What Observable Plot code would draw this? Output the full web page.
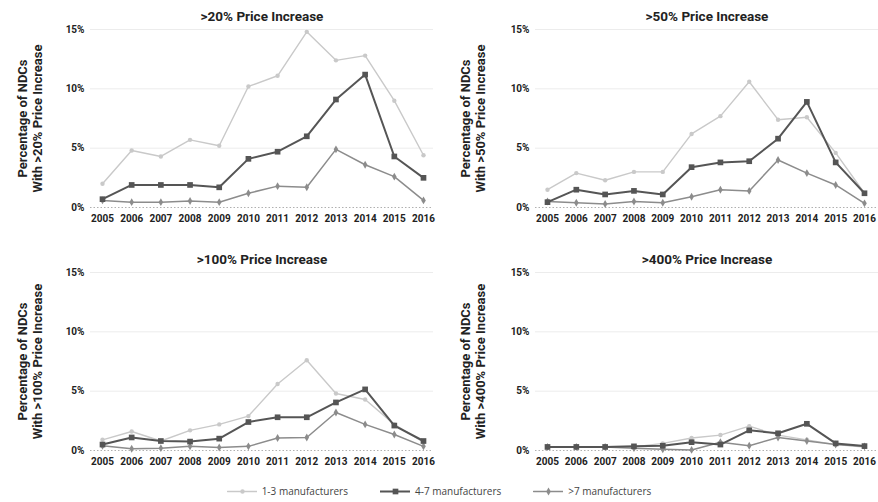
<!DOCTYPE html>
<html><head><meta charset="utf-8">
<script src="https://cdn.jsdelivr.net/npm/d3@7"></script>
<script src="https://cdn.jsdelivr.net/npm/@observablehq/plot@0.6"></script>
<style>
body{margin:0;background:#fff;width:878px;height:502px;overflow:hidden;position:relative;font-family:Roboto,sans-serif}
.panel{position:absolute}
#legend{position:absolute;left:0;top:481px;width:878px;height:20px;display:flex;justify-content:center;align-items:center;gap:32px;font:10px "Open Sans",sans-serif;color:#444}
#legend span{display:inline-flex;align-items:center;gap:5px}
</style></head><body>
<div id="p0" class="panel" style="left:0;top:0"></div>
<div id="p1" class="panel" style="left:439px;top:0"></div>
<div id="p2" class="panel" style="left:0;top:243px"></div>
<div id="p3" class="panel" style="left:439px;top:243px"></div>
<div id="legend"></div>
<script>
const years = [2005,2006,2007,2008,2009,2010,2011,2012,2013,2014,2015,2016];
const groups = ["1-3 manufacturers","4-7 manufacturers",">7 manufacturers"];
const panelTitles = [">20% Price Increase",">50% Price Increase",">100% Price Increase",">400% Price Increase"];
const axisTitles = ["Percentage of NDCs\nWith >20% Price Increase","Percentage of NDCs\nWith >50% Price Increase","Percentage of NDCs\nWith >100% Price Increase","Percentage of NDCs\nWith >400% Price Increase"];
const yTicks = [0,5,10,15];

const p20_1to3 = [2.0,4.8,4.3,5.7,5.2,10.2,11.1,14.8,12.4,12.8,9.0,4.4];
const p20_4to7 = [0.7,1.9,1.9,1.9,1.7,4.1,4.7,6.0,9.1,11.2,4.3,2.5];
const p20_over7 = [0.6,0.45,0.45,0.55,0.45,1.2,1.8,1.7,4.9,3.6,2.6,0.6];

const p50_1to3 = [1.5,2.9,2.3,3.0,3.0,6.2,7.7,10.6,7.4,7.6,4.6,1.2];
const p50_4to7 = [0.45,1.5,1.1,1.4,1.1,3.4,3.8,3.9,5.8,8.9,3.8,1.2];
const p50_over7 = [0.5,0.4,0.3,0.5,0.4,0.9,1.5,1.4,4.0,2.9,1.9,0.35];

const p100_1to3 = [0.9,1.6,0.8,1.7,2.2,2.9,5.6,7.6,4.8,4.3,2.2,0.7];
const p100_4to7 = [0.5,1.1,0.8,0.75,1.0,2.4,2.8,2.8,4.05,5.15,2.1,0.8];
const p100_over7 = [0.4,0.15,0.2,0.35,0.25,0.35,1.05,1.1,3.2,2.2,1.35,0.35];

const p400_1to3 = [0.3,0.3,0.3,0.3,0.6,1.05,1.3,2.05,1.3,0.9,0.5,0.3];
const p400_4to7 = [0.3,0.3,0.3,0.35,0.4,0.7,0.5,1.7,1.45,2.25,0.6,0.37];
const p400_over7 = [0.3,0.3,0.3,0.2,0.1,0.05,0.7,0.4,1.1,0.8,0.5,0.35];

const panels = [
  [p20_1to3,p20_4to7,p20_over7],
  [p50_1to3,p50_4to7,p50_over7],
  [p100_1to3,p100_4to7,p100_over7],
  [p400_1to3,p400_4to7,p400_over7]
];

const styles = [
  {stroke:"#c9c9c9", strokeWidth:1.4, r:2.2, symbol:"circle"},
  {stroke:"#555555", strokeWidth:2, r:3.2, symbol:"square"},
  {stroke:"#8c8c8c", strokeWidth:1.5, r:2.4, symbol:"diamond"}
];

function makePanel(i){
  const right = i % 2 === 1;
  const series = panels[i];
  const rowsOf = (vals) => years.map((y,k)=>({year:y, value:vals[k]}));
  const order = [0,2,1];
  const marks = [
    Plot.ruleY([5,10,15],{stroke:"#ececec"}),
    Plot.ruleY([0],{stroke:"#b0b0b0", strokeDasharray:"1.5,2"})
  ];
  for (const g of order){
    const s = styles[g];
    const d = rowsOf(series[g]);
    marks.push(Plot.lineY(d,{x:"year",y:"value",stroke:s.stroke,strokeWidth:s.strokeWidth}));
    marks.push(Plot.dot(d,{x:"year",y:"value",fill:s.stroke,r:s.r,symbol:s.symbol}));
  }
  marks.push(Plot.text([panelTitles[i]],{text:d=>d,frameAnchor:"top",dy:-13,lineAnchor:"middle",fontSize:13.5,fontWeight:700,fill:"#222"}));
  marks.push(Plot.text([axisTitles[i]],{text:d=>d,frameAnchor:"left",rotate:-90,dx:right?-63:-61,lineAnchor:"middle",textAnchor:"middle",fontSize:13,fontWeight:700,lineHeight:1.15,fill:"#222"}));
  return Plot.plot({
    width:439, height:236,
    marginLeft: right?96:90, marginRight: right?0:6, marginTop:29, marginBottom:29,
    insetLeft: right?12:12, insetRight: right?14:10,
    x:{type:"linear", domain:[2005,2016], ticks:years, tickFormat:d=>String(d), tickSize:0, tickPadding:7, label:null},
    y:{domain:[0,15], ticks:yTicks, tickFormat:d=>d+"%", tickSize:0, tickPadding:6, label:null},
    style:{fontFamily:"Roboto", fontSize:"10px", fontWeight:700, color:"#222", background:"white", overflow:"visible"},
    marks
  });
}

for (let i=0;i<4;i++) document.getElementById("p"+i).appendChild(makePanel(i));

const legend = document.getElementById("legend");
groups.forEach((g,k)=>{
  const s = styles[k];
  const span = document.createElement("span");
  const sw = Plot.plot({
    width:30, height:10, margin:0, axis:null,
    x:{domain:[0,1]}, y:{domain:[0,1]},
    marks:[
      Plot.lineY([{a:0,b:0.5},{a:1,b:0.5}],{x:"a",y:"b",stroke:s.stroke,strokeWidth:s.strokeWidth}),
      Plot.dot([{a:0.5,b:0.5}],{x:"a",y:"b",fill:s.stroke,r:s.r,symbol:s.symbol})
    ]
  });
  span.appendChild(sw);
  const t = document.createElement("span");
  t.textContent = g;
  span.appendChild(t);
  legend.appendChild(span);
});
</script>
</body></html>
